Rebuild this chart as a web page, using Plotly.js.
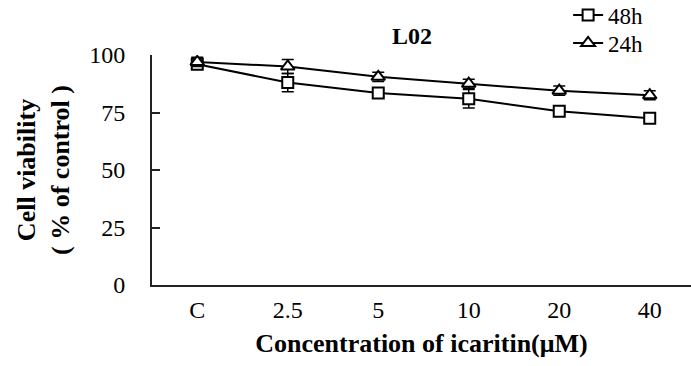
<!DOCTYPE html>
<html><head><meta charset="utf-8">
<script src="https://cdn.plot.ly/plotly-3.0.1.min.js"></script>
<style>body{margin:0;background:#fff}#c{width:691px;height:366px}</style>
</head><body><div id="c"></div>
<script>
const categories = ["C", "2.5", "5", "10", "20", "40"];
const h48 = [96, 88, 83.5, 81, 75.5, 72.5];
const h48err = [2, 4, 1.5, 4, 1.5, 1.5];
const h24 = [97, 95, 90.5, 87.5, 84.5, 82.5];
const h24err = [2, 3, 2, 2, 2, 2];
const serif = "'Times New Roman', 'Liberation Serif', Times, serif";

const traces = [
  {x: categories, y: h48, name: "48h", type: "scatter", mode: "lines+markers", legend: "legend",
   line: {color: "#000", width: 2},
   marker: {symbol: "square", size: 11, color: "#fff", line: {color: "#000", width: 2}},
   error_y: {type: "data", array: h48err, color: "#000", thickness: 1.5, width: 6}},
  {x: categories, y: h24, name: "24h", type: "scatter", mode: "lines+markers", legend: "legend2",
   line: {color: "#000", width: 2},
   marker: {symbol: "triangle-up", size: 12, color: "#fff", line: {color: "#000", width: 2}},
   error_y: {type: "data", array: h24err, color: "#000", thickness: 1.5, width: 6}}
];

const legendBase = {xanchor: "left", yanchor: "middle", bgcolor: "rgba(0,0,0,0)",
  font: {family: serif, size: 23, color: "#000"}, itemwidth: 30};

const layout = {
  width: 691, height: 366,
  margin: {l: 152, r: 0, t: 55, b: 81, autoexpand: false},
  paper_bgcolor: "#fff", plot_bgcolor: "#fff",
  font: {family: serif, color: "#000", size: 24},
  title: {text: "<b>L02</b>", font: {family: serif, size: 24, color: "#000"},
          x: 412/691, xanchor: "center", y: 1 - 36/366, yanchor: "middle"},
  xaxis: {type: "category", range: [-0.5, 5.456], showgrid: false, zeroline: false,
          showline: true, linecolor: "#222", linewidth: 2, ticks: "", ticklabelstandoff: 2,
          tickfont: {family: serif, size: 24, color: "#000"},
          title: {text: "<b>Concentration of icaritin(μM)</b>", standoff: 12,
                  font: {family: serif, size: 26, color: "#000"}}},
  yaxis: {range: [0, 100], tickvals: [0, 25, 50, 75, 100], showgrid: false, zeroline: false,
          showline: true, linecolor: "#222", linewidth: 2, ticks: "inside", ticklen: 8,
          tickwidth: 2, tickcolor: "#222", ticklabelstandoff: 20,
          tickfont: {family: serif, size: 24, color: "#000"},
          title: {text: "<b>Cell viability<br>( % of control )</b>", standoff: 12,
                  font: {family: serif, size: 26, color: "#000"}}},
  showlegend: true,
  legend: Object.assign({x: 0.772, y: (285-15)/230}, legendBase),
  legend2: Object.assign({x: 0.772, y: (285-43)/230}, legendBase)
};
Plotly.newPlot("c", traces, layout, {displayModeBar: false, staticPlot: true});
</script></body></html>
